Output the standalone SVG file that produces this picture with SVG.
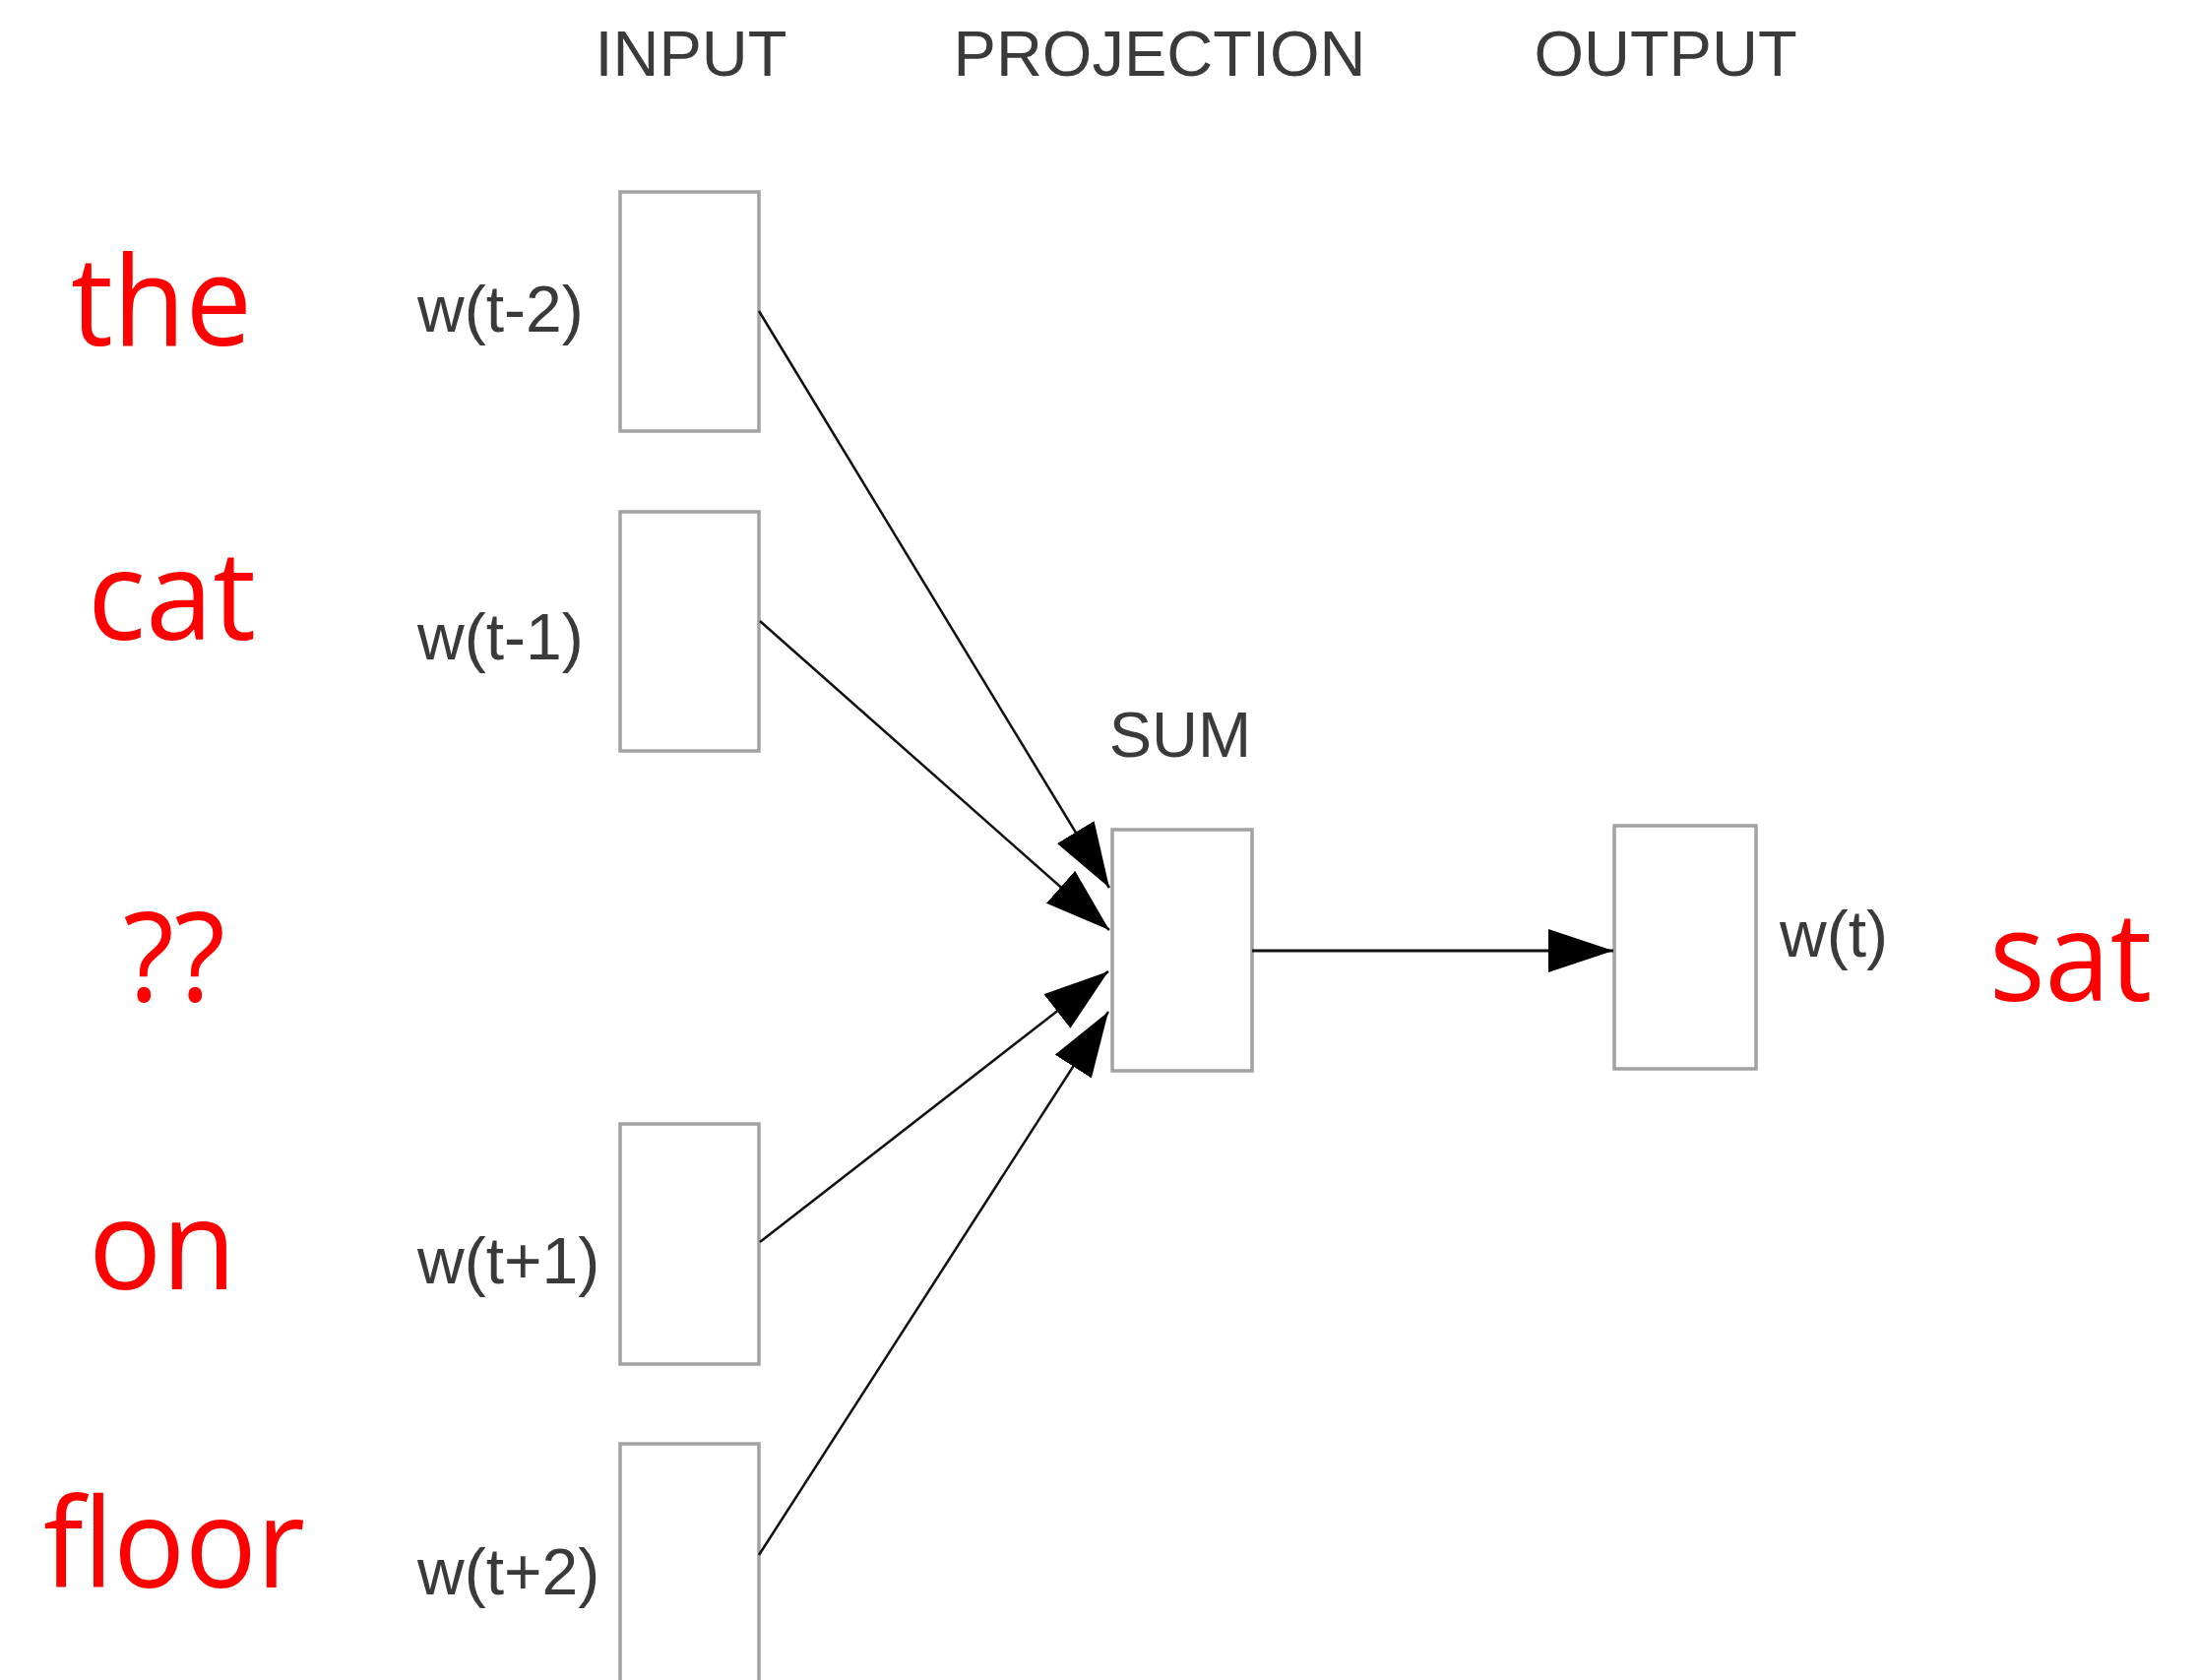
<svg xmlns="http://www.w3.org/2000/svg" width="2234" height="1707" viewBox="0 0 2234 1707">
  <style>
    .head { font-family: "Liberation Sans", Arial, sans-serif; font-size: 65px; fill: #3a3a3a; text-anchor: middle; }
    .lbl { font-family: "Liberation Sans", Arial, sans-serif; font-size: 66px; fill: #3a3a3a; }
    .word { font-family: "Open Sans", "Noto Sans", sans-serif; font-size: 127px; fill: #ff0000; }
    .box { fill: #ffffff; stroke: #a2a2a2; stroke-width: 3.5; }
    .edge { fill: none; stroke: #111111; stroke-width: 2.5; marker-end: url(#arrow); }
  </style>
  <defs>
    <marker id="arrow" markerUnits="userSpaceOnUse" markerWidth="68" markerHeight="46" refX="66" refY="22" orient="auto">
      <path d="M0,0 L66,22 L0,44 Z" fill="#000000"/>
    </marker>
  </defs>

  <rect width="2234" height="1707" fill="#ffffff"/>

  <!-- column headings -->
  <text class="head" x="702" y="77">INPUT</text>
  <text class="head" x="1178" y="77">PROJECTION</text>
  <text class="head" x="1692" y="77">OUTPUT</text>

  <!-- context words -->
  <text class="word" x="72" y="351" textLength="184" lengthAdjust="spacingAndGlyphs">the</text>
  <text class="word" x="89" y="650" textLength="171" lengthAdjust="spacingAndGlyphs">cat</text>
  <text class="word" x="125" y="1017" textLength="104" lengthAdjust="spacingAndGlyphs">??</text>
  <text class="word" x="90" y="1310" textLength="150" lengthAdjust="spacingAndGlyphs">on</text>
  <text class="word" x="44" y="1613" textLength="266" lengthAdjust="spacingAndGlyphs">floor</text>
  <text class="word" x="2021" y="1017" textLength="165" lengthAdjust="spacingAndGlyphs">sat</text>

  <!-- input nodes -->
  <g id="in-t-2">
    <rect class="box" x="630" y="195" width="141" height="243"/>
    <text class="lbl" x="424" y="337">w(t-2)</text>
  </g>
  <g id="in-t-1">
    <rect class="box" x="630" y="520" width="141" height="243"/>
    <text class="lbl" x="424" y="670">w(t-1)</text>
  </g>
  <g id="in-t+1">
    <rect class="box" x="630" y="1142" width="141" height="244"/>
    <text class="lbl" x="424" y="1304">w(t+1)</text>
  </g>
  <g id="in-t+2">
    <rect class="box" x="630" y="1467" width="141" height="260"/>
    <text class="lbl" x="424" y="1620">w(t+2)</text>
  </g>

  <!-- projection node -->
  <g id="sum">
    <rect class="box" x="1130" y="843" width="142" height="245"/>
    <text class="head" x="1199" y="769">SUM</text>
  </g>

  <!-- output node -->
  <g id="out">
    <rect class="box" x="1640" y="839" width="144" height="247"/>
    <text class="lbl" x="1808" y="972">w(t)</text>
  </g>

  <!-- connectors -->
  <g id="edges">
    <line class="edge" x1="771" y1="316" x2="1127" y2="902"/>
    <line class="edge" x1="772" y1="631" x2="1127" y2="945"/>
    <line class="edge" x1="772" y1="1262" x2="1126" y2="987"/>
    <line class="edge" x1="771" y1="1580" x2="1126" y2="1028"/>
    <line class="edge" x1="1272" y1="966" x2="1639" y2="966" style="stroke-width:3"/>
  </g>
</svg>
